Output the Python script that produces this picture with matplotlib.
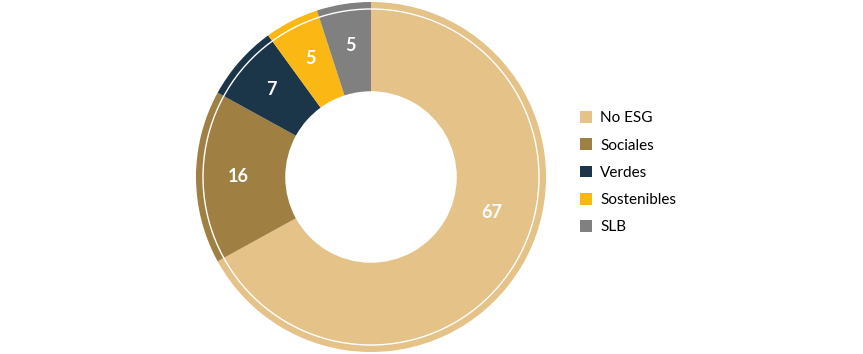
import matplotlib.pyplot as plt
from matplotlib.patches import Circle, Patch
import numpy as np

labels = ['No ESG', 'Sociales', 'Verdes', 'Sostenibles', 'SLB']
values = [67, 16, 7, 5, 5]
colors = ['#E5C287', '#A08042', '#1B3549', '#FBB713', '#808080']

plt.rcParams['font.family'] = ['Lato', 'DejaVu Sans']

fig = plt.figure(figsize=(8.63, 3.54), dpi=100)
ax = fig.add_axes([196/863, 2/354, 350/863, 350/354])

wedges, texts = ax.pie(values, colors=colors, startangle=90, counterclock=False,
                       radius=1.0, wedgeprops=dict(width=0.51, linewidth=0))

# white thin ring near the outer edge
ax.add_patch(Circle((0, 0), 0.96, fill=False, edgecolor='white', linewidth=1.0))

for i, (v, w) in enumerate(zip(values, wedges)):
    ang = (w.theta1 + w.theta2) / 2
    r = 0.76
    if i == 0:
        # big slice label sits lower-right in the original
        ang = w.theta2 + 0.44 * (w.theta1 - w.theta2)
        r = 0.72
    a = np.deg2rad(ang)
    ax.text(r*np.cos(a), r*np.sin(a), str(v), ha='center', va='center',
            color='white', fontsize=13, fontweight='bold')

ax.set_xlim(-1, 1)
ax.set_ylim(-1, 1)
ax.set_aspect('equal')

handles = [Patch(facecolor=c, edgecolor='none') for c in colors]
fig.legend(handles, labels, loc='center left', bbox_to_anchor=(566/863, 0.512),
           frameon=False, fontsize=11, handlelength=0.8, handleheight=0.8,
           labelspacing=0.86, handletextpad=0.55)

fig.savefig('out.png', dpi=100)
